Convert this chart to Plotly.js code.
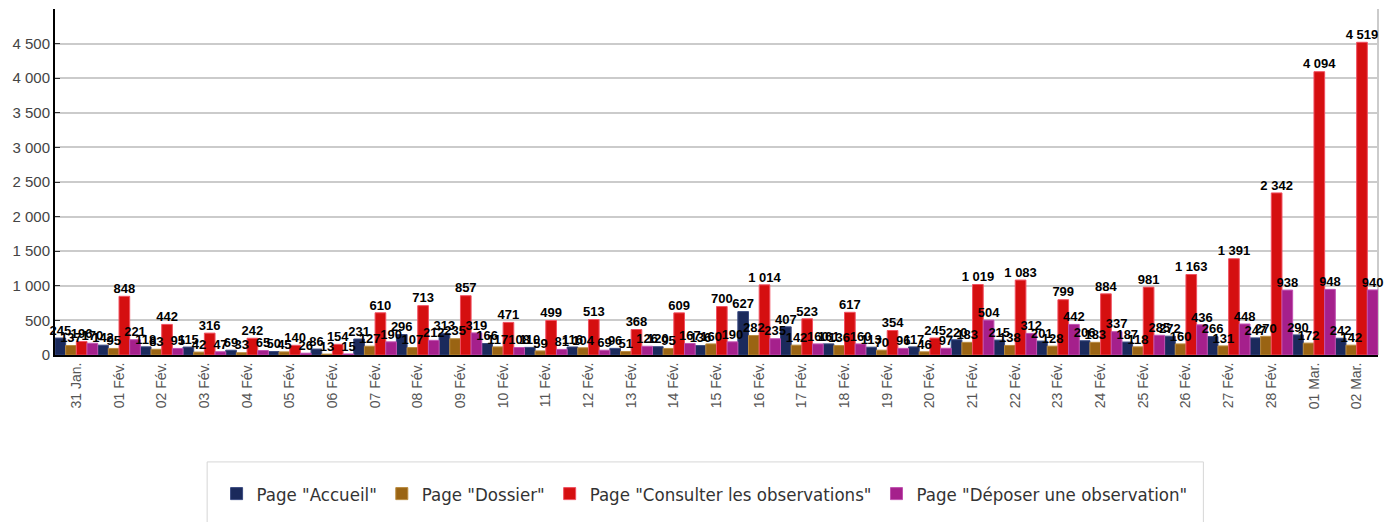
<!DOCTYPE html>
<html>
<head>
<meta charset="utf-8">
<script src="https://cdn.plot.ly/plotly-3.0.1.min.js"></script>
<style>
html,body{margin:0;padding:0;background:#fff;}
#chart{width:1391px;height:522px;}
</style>
</head>
<body>
<div id="chart"></div>
<script>
const categories = ["31 Jan.","01 Fév.","02 Fév.","03 Fév.","04 Fév.","05 Fév.","06 Fév.","07 Fév.","08 Fév.","09 Fév.","10 Fév.","11 Fév.","12 Fév.","13 Fév.","14 Fév.","15 Fév.","16 Fév.","17 Fév.","18 Fév.","19 Fév.","20 Fév.","21 Fév.","22 Fév.","23 Fév.","24 Fév.","25 Fév.","26 Fév.","27 Fév.","28 Fév.","01 Mar.","02 Mar."];
const accueil   = [245,142,118,115,69,50,86,231,296,313,166,110,116,96,120,136,627,407,161,113,117,220,215,201,206,187,272,266,247,290,242];
const dossier   = [137,95,83,42,33,45,13,127,107,235,117,59,104,51,95,160,282,142,136,70,46,183,138,128,183,118,160,131,270,172,142];
const consulter = [196,848,442,316,242,140,154,610,713,857,471,499,513,368,609,700,1014,523,617,354,245,1019,1083,799,884,981,1163,1391,2342,4094,4519];
const deposer   = [170,221,95,47,65,26,15,190,212,319,108,81,69,126,167,190,235,160,160,96,97,504,312,442,337,285,436,448,938,948,940];
const seriesNames = ['Page "Accueil"','Page "Dossier"','Page "Consulter les observations"','Page "Déposer une observation"'];
const seriesColors = ['#1b2a5c','#9a6413','#d50f10','#a5208c'];
const seriesEdges = ['#3a4a80','#b98a3e','#f05060','#c050b0'];
const yTicks = [0,500,1000,1500,2000,2500,3000,3500,4000,4500,5000];
const yTickText = ['0','500','1 000','1 500','2 000','2 500','3 000','3 500','4 000','4 500',''];
const allSeries = [accueil,dossier,consulter,deposer];

const bars = allSeries.map((vals,i)=>({
  type:'bar', x:categories, y:vals, name:seriesNames[i],
  marker:{color:seriesColors[i], line:{color:seriesEdges[i], width:1}},
  textposition:'none', hoverinfo:'x+y+name'
}));
const labels = allSeries.map((vals,i)=>({
  type:'scatter', mode:'text', x:categories, y:vals, showlegend:false,
  texttemplate:'%{y:,}', textposition:'top center', cliponaxis:false,
  textfont:{family:'"Liberation Sans Narrow","Arial Narrow",Arial,sans-serif', size:13, color:'#000', weight:'bold'},
  hoverinfo:'skip'
}));

const layout = {
  width:1391, height:522,
  separators:', ',
  margin:{l:55, r:13, t:9, b:167},
  paper_bgcolor:'#fff', plot_bgcolor:'#fff',
  barmode:'group', bargap:0.0, bargroupgap:0,
  scattermode:'group', scattergap:0.0,
  showlegend:true,
  legend:{orientation:'h', x:0.491, xanchor:'center', y:-0.402, yanchor:'middle',
    borderwidth:0, bgcolor:'rgba(0,0,0,0)',
    font:{family:'"DejaVu Sans Condensed","DejaVu Sans",sans-serif', size:18.5, color:'#333'},
    traceorder:'normal'},
  xaxis:{type:'category', tickangle:-90, showgrid:false, showline:true, linecolor:'#000', linewidth:2,
    ticks:'', tickfont:{family:'Arial, "Liberation Sans", sans-serif', size:14, color:'#555'}},
  yaxis:{range:[0,5000], tickvals:yTicks, ticktext:yTickText, showgrid:true, gridcolor:'#cbcbcb', gridwidth:2,
    showline:true, linecolor:'#000', linewidth:2, ticks:'inside', ticklen:5, tickcolor:'#333', zeroline:false,
    tickfont:{family:'Arial, "Liberation Sans", sans-serif', size:15, color:'#444'}},
  shapes:[
    {type:'line', layer:'below', xref:'paper', yref:'paper', x0:1, x1:1, y0:0, y1:1, line:{color:'#cbcbcb', width:2}},
    {type:'rect', layer:'below', xref:'paper', yref:'paper', x0:0.115, x1:0.868, y0:-0.309, y1:-0.52, line:{color:'#d6d6d6', width:1}, fillcolor:'rgba(0,0,0,0)'}
  ]
};
Plotly.newPlot('chart', bars.concat(labels), layout, {displayModeBar:false, staticPlot:true});
</script>
</body>
</html>
